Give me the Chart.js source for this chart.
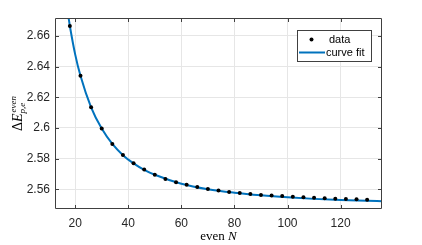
<!DOCTYPE html>
<html>
<head>
<meta charset="utf-8">
<script src="https://cdn.jsdelivr.net/npm/chart.js@4"></script>
<style>
  html, body { margin: 0; padding: 0; background: #fff; }
  canvas { display: block; }
</style>
</head>
<body>
<canvas id="myChart" width="422" height="245"></canvas>
<script>
// data
var evenN = [18, 22, 26, 30, 34, 38, 42, 46, 50, 54, 58, 62, 66, 70, 74,
             78, 82, 86, 90, 94, 98, 102, 106, 110, 114, 118, 122, 126, 130];
var deltaE = [2.6665, 2.6340, 2.6135, 2.5996, 2.5896, 2.5824, 2.5770, 2.5729,
              2.5696, 2.5668, 2.5646, 2.5630, 2.5616, 2.5603, 2.5592, 2.5583,
              2.5576, 2.5569, 2.5564, 2.5560, 2.5556, 2.5552, 2.5548, 2.5545,
              2.5542, 2.5539, 2.5537, 2.5535, 2.5533];

var fitN = [17.5, 18, 20, 22, 26, 30, 34, 38, 42, 46, 50, 60, 70, 80, 90,
            100, 110, 120, 130, 135.6];
var fitE = [2.6720, 2.6665, 2.6480, 2.6340, 2.6135, 2.5996, 2.5896, 2.5823,
            2.5769, 2.5727, 2.5695, 2.5637, 2.5601, 2.5578, 2.5561, 2.5548,
            2.5538, 2.5531, 2.5526, 2.5523];

var xTicks = [20, 40, 60, 80, 100, 120];
var yTicks = [2.56, 2.58, 2.60, 2.62, 2.64, 2.66];
var yTickLabels = ['2.56', '2.58', '2.6', '2.62', '2.64', '2.66'];

var axisColor = '#404040';
var fitColor = '#0072BD';

function pairs(xs, ys) {
  return xs.map(function (x, i) { return { x: x, y: ys[i] }; });
}

// box, inward ticks, legend and axis titles (MATLAB look)
var matlabLook = {
  id: 'matlabLook',
  afterDraw: function (chart) {
    var ctx = chart.ctx;
    var a = chart.chartArea;
    var xs = chart.scales.x, ys = chart.scales.y;
    var L = Math.round(a.left) + 0.5, R = Math.round(a.right) - 0.5;
    var T = Math.round(a.top) + 0.5, B = Math.round(a.bottom) - 0.5;
    var tl = 3.5;

    ctx.save();
    ctx.strokeStyle = axisColor;
    ctx.lineWidth = 1;
    ctx.beginPath();
    ctx.rect(L, T, R - L, B - T);
    xTicks.forEach(function (v) {
      var px = Math.round(xs.getPixelForValue(v)) + 0.5;
      ctx.moveTo(px, B); ctx.lineTo(px, B - tl);
      ctx.moveTo(px, T); ctx.lineTo(px, T + tl);
    });
    yTicks.forEach(function (v) {
      var py = Math.round(ys.getPixelForValue(v)) + 0.5;
      ctx.moveTo(L, py); ctx.lineTo(L + tl, py);
      ctx.moveTo(R, py); ctx.lineTo(R - tl, py);
    });
    ctx.stroke();

    // legend
    var lx = 297.5, ly = 30.5, lw = 74, lh = 31;
    ctx.fillStyle = '#fff';
    ctx.fillRect(lx, ly, lw, lh);
    ctx.strokeStyle = axisColor;
    ctx.strokeRect(lx, ly, lw, lh);
    ctx.fillStyle = '#000';
    ctx.beginPath();
    ctx.arc(311.5, 39.5, 2, 0, Math.PI * 2);
    ctx.fill();
    ctx.strokeStyle = fitColor;
    ctx.lineWidth = 2;
    ctx.beginPath();
    ctx.moveTo(299, 52.5); ctx.lineTo(325, 52.5);
    ctx.stroke();
    ctx.fillStyle = '#000';
    ctx.font = '11px "Liberation Sans", Arial, sans-serif';
    ctx.textBaseline = 'middle';
    ctx.textAlign = 'left';
    ctx.fillText('data', 329, 39.5);
    ctx.fillText('curve fit', 326, 52.5);

    // x title: even N
    ctx.fillStyle = '#000';
    ctx.textBaseline = 'alphabetic';
    var f1 = '13px "Liberation Serif", "DejaVu Serif", serif';
    var f2 = 'italic 13px "Liberation Serif", "DejaVu Serif", serif';
    ctx.font = f1;
    var w1 = ctx.measureText('even ').width;
    ctx.font = f2;
    var w2 = ctx.measureText('N').width;
    var cx = (a.left + a.right) / 2;
    var x0 = cx - (w1 + w2) / 2;
    ctx.font = f1; ctx.fillText('even ', x0, 240);
    ctx.font = f2; ctx.fillText('N', x0 + w1, 240);

    // y title: Delta E ^even _p,e  (rotated)
    ctx.translate(22, (a.top + a.bottom) / 2);
    ctx.rotate(-Math.PI / 2);
    var big = '14px "Liberation Serif", "DejaVu Serif", serif';
    var bigI = 'italic 14px "Liberation Serif", "DejaVu Serif", serif';
    var small = 'italic 9px "Liberation Serif", "DejaVu Serif", serif';
    ctx.font = big; var wd = ctx.measureText('\u0394').width;
    ctx.font = bigI; var we = ctx.measureText('E').width;
    ctx.font = small;
    var wsup = ctx.measureText('even').width;
    var wsub = ctx.measureText('p,e').width;
    var total = wd + we + 1 + Math.max(wsup, wsub);
    var s = -total / 2;
    ctx.font = big; ctx.fillText('\u0394', s, 0);
    ctx.font = bigI; ctx.fillText('E', s + wd, 0);
    ctx.font = small;
    ctx.fillText('even', s + wd + we + 1, -6);
    ctx.fillText('p,e', s + wd + we, 3);
    ctx.restore();
  }
};

var ctx = document.getElementById('myChart');
var myChart = new Chart(ctx, {
  type: 'scatter',
  data: {
    datasets: [{
      label: 'data',
      data: pairs(evenN, deltaE),
      showLine: false,
      pointRadius: 2,
      pointBackgroundColor: '#000',
      pointBorderColor: '#000',
      pointBorderWidth: 0
    }, {
      label: 'curve fit',
      data: pairs(fitN, fitE),
      showLine: true,
      pointRadius: 0,
      borderColor: fitColor,
      borderWidth: 2,
      cubicInterpolationMode: 'monotone'
    }]
  },
  options: {
    responsive: false,
    animation: false,
    devicePixelRatio: 1,
    layout: { padding: { left: 0, right: 40, top: 18, bottom: 0 } },
    plugins: { legend: { display: false }, tooltip: { enabled: false } },
    scales: {
      x: {
        type: 'linear',
        min: 12.4,
        max: 135.6,
        afterBuildTicks: function (s) { s.ticks = xTicks.map(function (v) { return { value: v }; }); },
        afterFit: function (s) { s.height = 36; },
        grid: { color: '#e6e6e6', drawTicks: false },
        border: { display: false },
        ticks: {
          color: '#262626',
          padding: 7,
          maxRotation: 0,
          font: { family: '"Liberation Sans", Arial, sans-serif', size: 12 }
        }
      },
      y: {
        type: 'linear',
        min: 2.5472,
        max: 2.6717,
        afterBuildTicks: function (s) { s.ticks = yTicks.map(function (v) { return { value: v }; }); },
        afterFit: function (s) { s.width = 55; },
        grid: { color: '#e6e6e6', drawTicks: false },
        border: { display: false },
        ticks: {
          color: '#262626',
          padding: 5,
          font: { family: '"Liberation Sans", Arial, sans-serif', size: 12 },
          callback: function (v, i) { return yTickLabels[i]; }
        }
      }
    }
  },
  plugins: [matlabLook]
});
</script>
</body>
</html>
